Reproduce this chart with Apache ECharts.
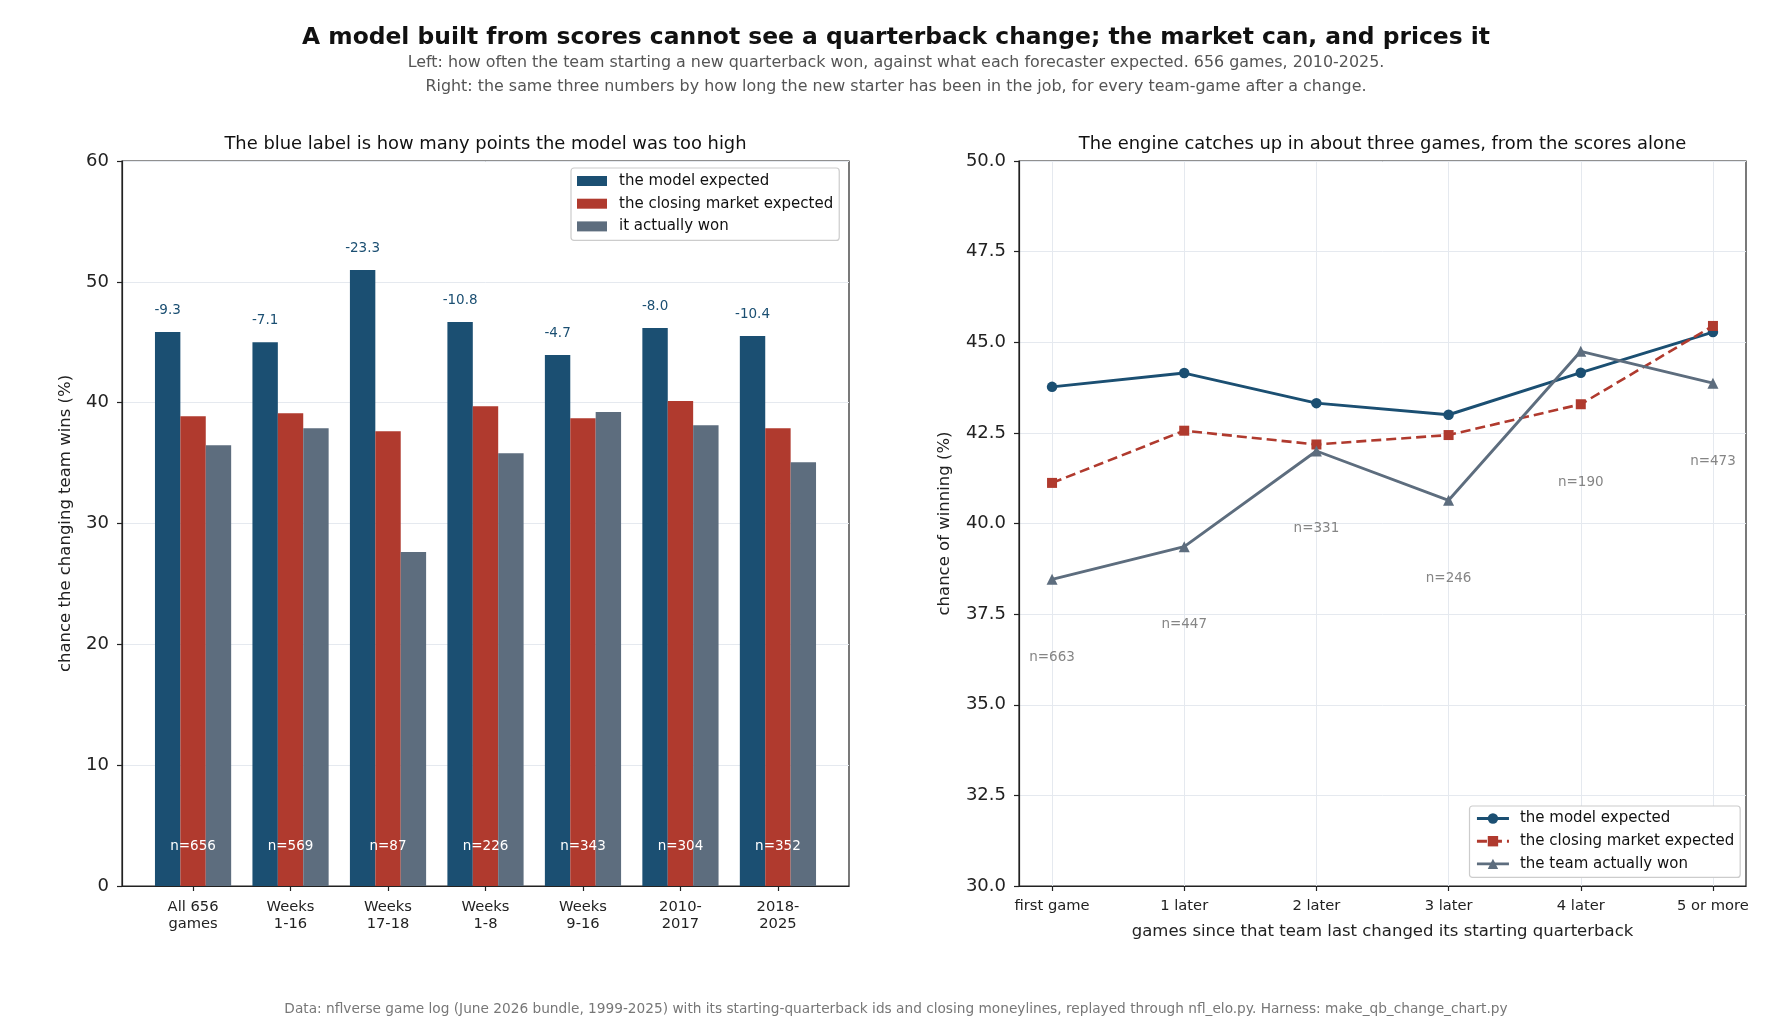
<!DOCTYPE html>
<html><head><meta charset="utf-8">
<script src="https://cdn.jsdelivr.net/npm/echarts@6/dist/echarts.min.js"></script>
<style>html,body{margin:0;padding:0;background:#fff}#c{width:1792px;height:1036px}</style>
</head><body><div id="c"></div><script>
// ---- data ----
const leftCategories = ['All 656\ngames','Weeks\n1-16','Weeks\n17-18','Weeks\n1-8','Weeks\n9-16','2010-\n2017','2018-\n2025'];
const leftModel  = [45.84, 45.01, 50.97, 46.67, 43.94, 46.17, 45.51];
const leftMarket = [38.88, 39.13, 37.64, 39.71, 38.72, 40.13, 37.89];
const leftWon    = [36.48, 37.89, 27.64, 35.82, 39.22, 38.14, 35.07];
const leftGapLabels = ['-9.3','-7.1','-23.3','-10.8','-4.7','-8.0','-10.4'];
const leftN = ['n=656','n=569','n=87','n=226','n=343','n=304','n=352'];

const rightCategories = ['first game','1 later','2 later','3 later','4 later','5 or more'];
const rightModel  = [43.77, 44.15, 43.32, 43.00, 44.16, 45.28];
const rightMarket = [41.12, 42.56, 42.18, 42.44, 43.29, 45.45];
const rightWon    = [38.46, 39.36, 42.00, 40.64, 44.75, 43.87];
const rightN = ['n=663','n=447','n=331','n=246','n=190','n=473'];

const seriesNamesLeft = ['the model expected','the closing market expected','it actually won'];
const seriesNamesRight = ['the model expected','the closing market expected','the team actually won'];
const rightIds = ['r_model','r_market','r_won'];

// ---- styles ----
const F = 'DejaVu Sans';
const C_MODEL = '#1b4f72', C_MARKET = '#b03a2e', C_WON = '#5d6d7e';
const GRIDC = '#e5e9ef', AXC = '#222';
const idxL = leftCategories.map((_, i) => i);
const idxR = rightCategories.map((_, i) => i);

const chart = echarts.init(document.getElementById('c'), null, {renderer: 'canvas'});

const axisCommonY = {
  axisLine: {show: true, onZero: false, lineStyle: {color: AXC, width: 1.2}},
  axisTick: {show: true, inside: false, length: 5, lineStyle: {color: AXC, width: 1.2}},
  axisLabel: {fontFamily: F, fontSize: 18, color: '#222', margin: 13},
  splitLine: {show: true, lineStyle: {color: GRIDC, width: 1}},
  nameLocation: 'middle', nameRotate: 90,
  nameTextStyle: {fontFamily: F, fontSize: 16.5, color: '#222'}
};

const titleBase = {textAlign: 'center', padding: 0};
const option = {
  backgroundColor: '#fff',
  animation: false,
  title: [
    Object.assign({text: 'A model built from scores cannot see a quarterback change; the market can, and prices it',
     left: 896, top: 26.2, textStyle: {fontFamily: F, fontSize: 23.4, fontWeight: 'bold', color: '#111'}}, titleBase),
    Object.assign({text: 'Left: how often the team starting a new quarterback won, against what each forecaster expected. 656 games, 2010-2025.',
     left: 896, top: 54.7, textStyle: {fontFamily: F, fontSize: 15.9, fontWeight: 'normal', color: '#555'}}, titleBase),
    Object.assign({text: 'Right: the same three numbers by how long the new starter has been in the job, for every team-game after a change.',
     left: 896, top: 78.7, textStyle: {fontFamily: F, fontSize: 15.9, fontWeight: 'normal', color: '#555'}}, titleBase),
    Object.assign({text: 'The blue label is how many points the model was too high',
     left: 485.5, top: 135.2, textStyle: {fontFamily: F, fontSize: 17.9, fontWeight: 'normal', color: '#111'}}, titleBase),
    Object.assign({text: 'The engine catches up in about three games, from the scores alone',
     left: 1382.5, top: 135.2, textStyle: {fontFamily: F, fontSize: 17.9, fontWeight: 'normal', color: '#111'}}, titleBase),
    Object.assign({text: 'Data: nflverse game log (June 2026 bundle, 1999-2025) with its starting-quarterback ids and closing moneylines, replayed through nfl_elo.py. Harness: make_qb_change_chart.py',
     left: 896, top: 1002, textStyle: {fontFamily: F, fontSize: 13.7, fontWeight: 'normal', color: '#777'}}, titleBase)
  ],
  legend: [
    {data: seriesNamesLeft.map(n => ({name: n, icon: 'rect'})), orient: 'vertical', left: 571, top: 168,
     itemWidth: 30, itemHeight: 10, itemGap: 7.7,
     padding: [5.5, 6, 6.5, 6],
     backgroundColor: '#fff', borderColor: '#ccc', borderWidth: 1.2, borderRadius: 3,
     textStyle: {fontFamily: F, fontSize: 15, color: '#111', lineHeight: 15, padding: [0, 0, 0, 7]},
     selectedMode: false},
    {data: rightIds, orient: 'vertical', left: 1469.5, top: 806,
     formatter: id => seriesNamesRight[rightIds.indexOf(id)],
     itemWidth: 32, itemHeight: 13, itemGap: 7.7,
     padding: [5, 6, 6, 6],
     backgroundColor: '#fff', borderColor: '#ccc', borderWidth: 1.2, borderRadius: 3,
     lineStyle: {width: 2.9},
     textStyle: {fontFamily: F, fontSize: 15, color: '#111', lineHeight: 15, padding: [0, 0, 0, 6]},
     selectedMode: false}
  ],
  grid: [
    {left: 122, top: 161, width: 727, height: 725, show: true, borderColor: AXC, borderWidth: 1.2, containLabel: false},
    {left: 1019, top: 161, width: 727, height: 725, show: true, borderColor: AXC, borderWidth: 1.2, containLabel: false}
  ],
  xAxis: [
    {type: 'value', gridIndex: 0, min: -0.729, max: 6.729,
     axisLine: {show: true, onZero: false, lineStyle: {color: AXC, width: 1.2}},
     axisTick: {show: true, inside: false, length: 5, customValues: idxL, lineStyle: {color: AXC, width: 1.2}},
     axisLabel: {customValues: idxL, formatter: v => leftCategories[Math.round(v)] || '',
       fontFamily: F, fontSize: 14.7, color: '#222', lineHeight: 17, margin: 13},
     splitLine: {show: false}},
    {type: 'value', gridIndex: 1, min: -0.25, max: 5.25,
     axisLine: {show: true, onZero: false, lineStyle: {color: AXC, width: 1.2}},
     axisTick: {show: true, inside: false, length: 5, customValues: idxR, lineStyle: {color: AXC, width: 1.2}},
     axisLabel: {customValues: idxR, formatter: v => rightCategories[Math.round(v)] || '',
       fontFamily: F, fontSize: 14.7, color: '#222', margin: 13},
     splitLine: {show: true, lineStyle: {color: GRIDC, width: 1}},
     name: 'games since that team last changed its starting quarterback',
     nameLocation: 'middle', nameGap: 37,
     nameTextStyle: {fontFamily: F, fontSize: 16.5, color: '#222'}}
  ],
  yAxis: [
    Object.assign({}, axisCommonY, {type: 'value', gridIndex: 0, min: 0, max: 60, interval: 10,
      name: 'chance the changing team wins (%)', nameGap: 48}),
    Object.assign({}, axisCommonY, {type: 'value', gridIndex: 1, min: 30, max: 50, interval: 2.5,
      axisLabel: Object.assign({}, axisCommonY.axisLabel, {formatter: v => v.toFixed(1)}),
      name: 'chance of winning (%)', nameGap: 66})
  ],
  series: [
    {name: seriesNamesLeft[0], type: 'bar', xAxisIndex: 0, yAxisIndex: 0,
     data: leftModel.map((v, i) => [i, v]), barWidth: 25.4, barGap: '0%',
     itemStyle: {color: C_MODEL},
     label: {show: true, position: 'top', distance: 15, formatter: p => leftGapLabels[p.dataIndex],
       fontFamily: F, fontSize: 13.5, color: C_MODEL}},
    {name: seriesNamesLeft[1], type: 'bar', xAxisIndex: 0, yAxisIndex: 0,
     data: leftMarket.map((v, i) => [i, v]), barWidth: 25.4, barGap: '0%',
     itemStyle: {color: C_MARKET},
     label: {show: true, position: 'insideBottom', distance: 33, formatter: p => leftN[p.dataIndex],
       fontFamily: F, fontSize: 13.5, color: '#fff'}},
    {name: seriesNamesLeft[2], type: 'bar', xAxisIndex: 0, yAxisIndex: 0,
     data: leftWon.map((v, i) => [i, v]), barWidth: 25.4, barGap: '0%',
     itemStyle: {color: C_WON}},

    {name: rightIds[0], type: 'line', xAxisIndex: 1, yAxisIndex: 1,
     data: rightModel.map((v, i) => [i, v]), symbol: 'circle', symbolSize: 10.5,
     lineStyle: {color: C_MODEL, width: 2.9}, itemStyle: {color: C_MODEL}},
    {name: rightIds[1], type: 'line', xAxisIndex: 1, yAxisIndex: 1,
     data: rightMarket.map((v, i) => [i, v]), symbol: 'rect', symbolSize: 10,
     lineStyle: {color: C_MARKET, width: 2.6, type: [10, 5]}, itemStyle: {color: C_MARKET}},
    {name: rightIds[2], type: 'line', xAxisIndex: 1, yAxisIndex: 1,
     data: rightWon.map((v, i) => [i, v]), symbol: 'triangle', symbolSize: 11,
     lineStyle: {color: C_WON, width: 2.9}, itemStyle: {color: C_WON}},
    {name: 'n', type: 'scatter', xAxisIndex: 1, yAxisIndex: 1, silent: true,
     data: rightN.map((n, i) => [i, Math.min(rightModel[i], rightMarket[i], rightWon[i]) - 2.15]),
     symbolSize: 0,
     label: {show: true, position: 'inside', formatter: p => rightN[p.dataIndex],
       fontFamily: F, fontSize: 13.5, color: '#666'}}
  ]
};
chart.setOption(option);
</script></body></html>
